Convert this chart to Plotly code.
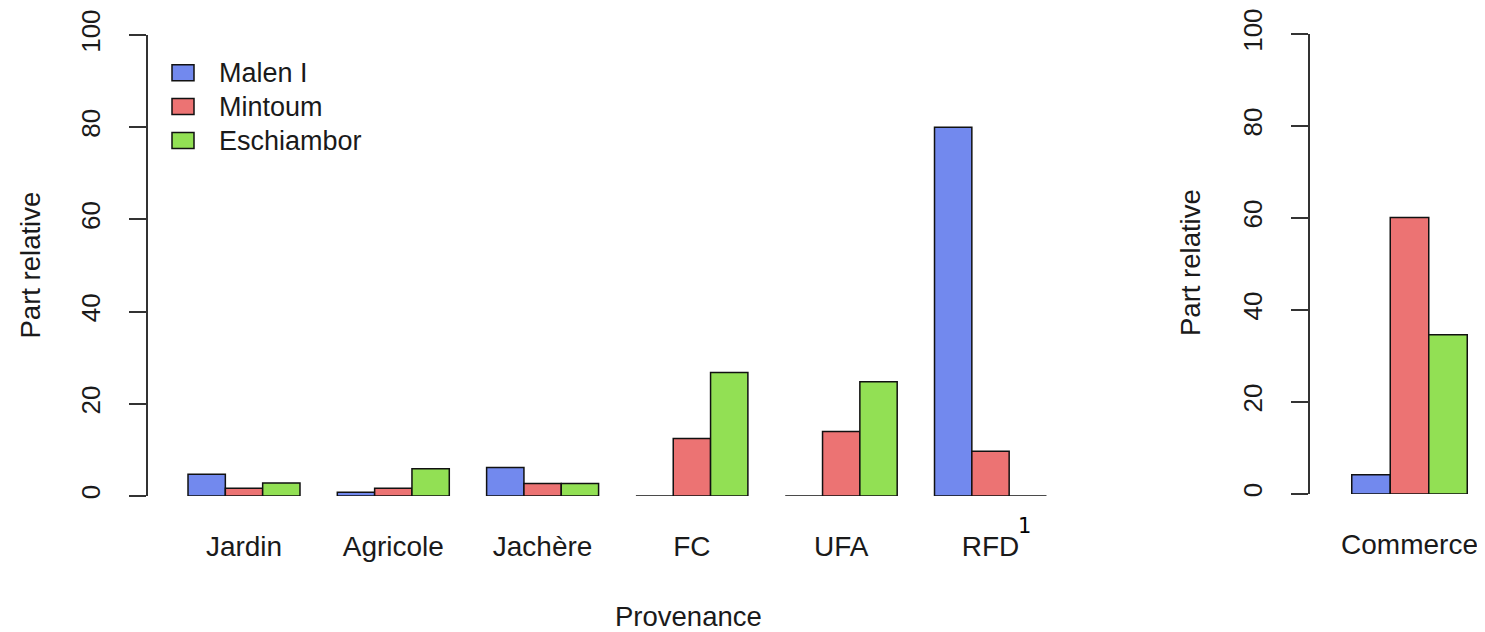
import plotly.graph_objects as go

# ---- data ----
categories = ["Jardin", "Agricole", "Jachère", "FC", "UFA", "RFD"]
malen = [4.7, 0.8, 6.2, 0.0, 0.0, 80.0]
mintoum = [1.7, 1.7, 2.7, 12.5, 14.0, 9.7]
eschiambor = [2.8, 5.9, 2.7, 26.8, 24.8, 0.0]

commerce_cat = ["Commerce"]
commerce_malen = [4.2]
commerce_mintoum = [60.1]
commerce_eschiambor = [34.6]

series_names = ["Malen I", "Mintoum", "Eschiambor"]
colors = ["#7289ee", "#ec7373", "#92e054"]

# page has an 8px body margin: the figure is sized to fill the rest of the window
OFF = 8
W, H = 1485 - OFF, 632 - OFF
FONT = "Liberation Sans, Arial, sans-serif"
TXT = "#1a1a1a"

def px(x):
    return (x - OFF) / W

def py(y):
    return 1 - (y - OFF) / H

fig = go.Figure()

left_vals = [malen, mintoum, eschiambor]
right_vals = [commerce_malen, commerce_mintoum, commerce_eschiambor]

for name, col, v in zip(series_names, colors, left_vals):
    fig.add_trace(go.Bar(
        x=categories, y=v, name=name, marker_color=col,
        marker_line_color="#111111", marker_line_width=1.5,
        xaxis="x", yaxis="y", showlegend=False, offsetgroup=name,
    ))
for name, col, v in zip(series_names, colors, right_vals):
    fig.add_trace(go.Bar(
        x=commerce_cat, y=v, name=name, marker_color=col,
        marker_line_color="#111111", marker_line_width=1.5,
        xaxis="x2", yaxis="y2", showlegend=False, offsetgroup=name,
    ))

# left panel geometry (reference pixels)
left_axis_px = 148
cat_px = 149.3
first_center_px = 244
x_right_px = 1080
x_left = (left_axis_px - first_center_px) / cat_px
x_right = (x_right_px - first_center_px) / cat_px

# right panel geometry
r_axis_px = 1310
r_cat_px = 154
r_center_px = 1409.5
r_left = (r_axis_px - r_center_px) / r_cat_px
r_right = (1485 - r_center_px) / r_cat_px

yaxis_common = dict(
    range=[0, 100], tickvals=[0, 20, 40, 60, 80, 100],
    showgrid=False, zeroline=False, showline=True, linecolor="#333333",
    linewidth=1.5, ticks="outside", ticklen=17, tickwidth=1.5,
    tickcolor="#333333", tickangle=-90, automargin=False,
    tickfont=dict(family=FONT, size=26, color=TXT),
    ticklabelstandoff=19, ticklabeloverflow="allow",
)
xaxis_common = dict(
    showgrid=False, zeroline=False, showline=False, ticks="", automargin=False,
    tickfont=dict(family=FONT, size=28, color=TXT),
    ticklabelstandoff=31, ticklabeloverflow="allow",
)

# legend drawn as boxes + labels
legend_rows = [72.7, 106.5, 140.5]
shapes = []
annotations = []
for name, col, ry in zip(series_names, colors, legend_rows):
    shapes.append(dict(type="rect", xref="paper", yref="paper",
                       x0=px(172), x1=px(194), y0=py(ry + 8), y1=py(ry - 8),
                       fillcolor=col, line=dict(color="#111111", width=1.5)))
    annotations.append(dict(text=name, x=px(217), y=py(ry), xref="paper", yref="paper",
                            showarrow=False, xanchor="left", yanchor="middle",
                            font=dict(family=FONT, size=27, color=TXT)))

annotations += [
    dict(text="Part relative", x=px(30), y=py(265.5), xref="paper", yref="paper",
         showarrow=False, textangle=-90, xanchor="center", yanchor="middle",
         font=dict(family=FONT, size=27.5, color=TXT)),
    dict(text="Part relative", x=px(1190), y=py(263), xref="paper", yref="paper",
         showarrow=False, textangle=-90, xanchor="center", yanchor="middle",
         font=dict(family=FONT, size=27.5, color=TXT)),
    dict(text="Provenance", x=px(688), y=py(616), xref="paper", yref="paper",
         showarrow=False, xanchor="center", yanchor="middle",
         font=dict(family=FONT, size=27.5, color=TXT)),
    dict(text="1", x=px(1024), y=py(526), xref="paper", yref="paper",
         showarrow=False, xanchor="center", yanchor="middle",
         font=dict(family="DejaVu Sans, sans-serif", size=21, color="#000000")),
]

fig.update_layout(
    width=W, height=H,
    margin=dict(l=0, r=0, t=0, b=0, autoexpand=False),
    paper_bgcolor="white", plot_bgcolor="white",
    barmode="group", bargap=0.25, bargroupgap=0,
    xaxis=dict(domain=[px(left_axis_px), px(x_right_px)], range=[x_left, x_right],
               anchor="y", **xaxis_common),
    yaxis=dict(domain=[py(496), py(35)], anchor="x", **yaxis_common),
    xaxis2=dict(domain=[px(r_axis_px), 1.0], range=[r_left, r_right],
                anchor="y2", **xaxis_common),
    yaxis2=dict(domain=[py(494), py(34)], anchor="x2", **yaxis_common),
    showlegend=False,
    shapes=shapes,
    annotations=annotations,
)

fig.write_html("out.html")
